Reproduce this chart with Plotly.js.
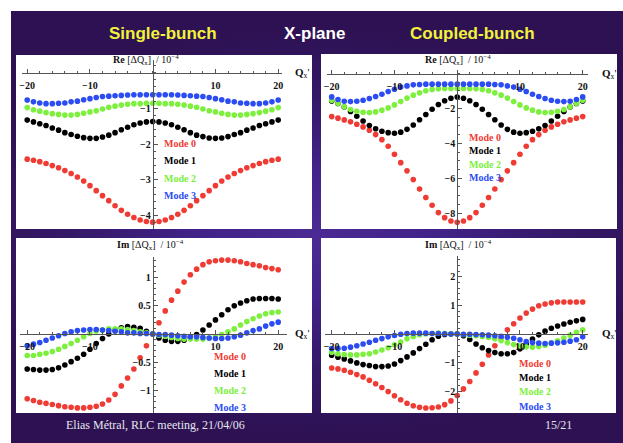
<!DOCTYPE html>
<html>
<head>
<meta charset="utf-8">
<script src="https://cdn.plot.ly/plotly-3.0.1.min.js"></script>
<style>
  html, body { margin: 0; padding: 0; background: #ffffff; }
  #slide {
    position: absolute; left: 11px; top: 11px; width: 612px; height: 432px;
    background: radial-gradient(ellipse 62% 48% at 305px 222px, #4b2b93 0%, #42238a 30%, #361a6c 60%, #2d1152 100%);
  }
  #chart { position: absolute; left: 0; top: 0; width: 623px; height: 443px; }
</style>
</head>
<body>
<div id="slide"></div>
<div id="chart"></div>
<script>
// Chromaticity Q'x (shared abscissa of all four plots)
const qPrime = [-20,-19,-18,-17,-16,-15,-14,-13,-12,-11,-10,-9,-8,-7,-6,-5,-4,-3,-2,-1,0,
                1,2,3,4,5,6,7,8,9,10,11,12,13,14,15,16,17,18,19,20];

// Re[dQx] / 1e-4, single-bunch
const reSingle0 = [-2.42,-2.45,-2.49,-2.54,-2.60,-2.66,-2.74,-2.82,-2.92,-3.03,-3.16,-3.30,-3.44,-3.58,-3.72,-3.85,-3.96,-4.05,-4.12,-4.16,-4.18,
                   -4.16,-4.12,-4.05,-3.96,-3.85,-3.72,-3.58,-3.44,-3.30,-3.16,-3.03,-2.92,-2.82,-2.74,-2.66,-2.60,-2.54,-2.49,-2.45,-2.42];
const reSingle1 = [-1.33,-1.38,-1.43,-1.48,-1.55,-1.61,-1.68,-1.73,-1.78,-1.82,-1.84,-1.84,-1.80,-1.75,-1.68,-1.60,-1.53,-1.46,-1.41,-1.38,-1.37,
                   -1.38,-1.41,-1.46,-1.53,-1.60,-1.68,-1.75,-1.79,-1.83,-1.84,-1.83,-1.79,-1.73,-1.68,-1.61,-1.55,-1.48,-1.43,-1.38,-1.33];
const reSingle2 = [-0.98,-1.04,-1.08,-1.12,-1.15,-1.17,-1.19,-1.19,-1.17,-1.14,-1.10,-1.07,-1.02,-0.97,-0.94,-0.91,-0.89,-0.87,-0.87,-0.86,-0.86,
                   -0.86,-0.87,-0.87,-0.89,-0.91,-0.94,-0.97,-1.02,-1.07,-1.10,-1.14,-1.17,-1.19,-1.19,-1.17,-1.15,-1.12,-1.08,-1.04,-0.98];
const reSingle3 = [-0.77,-0.82,-0.85,-0.87,-0.87,-0.86,-0.85,-0.82,-0.80,-0.76,-0.73,-0.70,-0.67,-0.66,-0.65,-0.64,-0.63,-0.62,-0.62,-0.62,-0.62,
                   -0.62,-0.62,-0.62,-0.63,-0.64,-0.65,-0.66,-0.67,-0.70,-0.73,-0.76,-0.80,-0.82,-0.85,-0.86,-0.87,-0.87,-0.85,-0.82,-0.77];

// Re[dQx] / 1e-4, coupled-bunch
const reCoupled0 = [-2.47,-2.56,-2.66,-2.77,-2.91,-3.06,-3.25,-3.50,-3.79,-4.17,-4.63,-5.11,-5.58,-6.08,-6.62,-7.11,-7.55,-7.97,-8.26,-8.45,-8.53,
                    -8.45,-8.26,-7.97,-7.55,-7.11,-6.62,-6.08,-5.58,-5.11,-4.63,-4.17,-3.79,-3.50,-3.25,-3.06,-2.91,-2.77,-2.66,-2.56,-2.47];
const reCoupled1 = [-1.57,-1.72,-1.92,-2.18,-2.45,-2.72,-2.98,-3.17,-3.31,-3.39,-3.42,-3.36,-3.20,-2.95,-2.65,-2.35,-2.05,-1.78,-1.56,-1.42,-1.35,
                    -1.42,-1.56,-1.78,-2.05,-2.35,-2.65,-2.95,-3.20,-3.36,-3.42,-3.39,-3.31,-3.17,-2.98,-2.72,-2.45,-2.18,-1.92,-1.72,-1.57];
const reCoupled2 = [-1.53,-1.70,-1.91,-2.06,-2.16,-2.22,-2.24,-2.20,-2.10,-1.97,-1.80,-1.61,-1.41,-1.24,-1.11,-0.99,-0.92,-0.88,-0.86,-0.86,-0.86,
                    -0.86,-0.86,-0.88,-0.92,-0.99,-1.11,-1.24,-1.41,-1.61,-1.80,-1.97,-2.10,-2.20,-2.24,-2.22,-2.16,-2.06,-1.91,-1.70,-1.53];
const reCoupled3 = [-1.34,-1.49,-1.59,-1.61,-1.59,-1.53,-1.43,-1.32,-1.19,-1.03,-0.90,-0.78,-0.71,-0.65,-0.63,-0.61,-0.61,-0.61,-0.61,-0.61,-0.61,
                    -0.61,-0.61,-0.61,-0.61,-0.61,-0.63,-0.65,-0.71,-0.78,-0.90,-1.03,-1.19,-1.32,-1.43,-1.53,-1.59,-1.61,-1.59,-1.49,-1.34];

// Im[dQx] / 1e-4, single-bunch
const imSingle0 = [-1.15,-1.18,-1.21,-1.23,-1.25,-1.27,-1.29,-1.30,-1.31,-1.31,-1.30,-1.28,-1.24,-1.17,-1.07,-0.92,-0.78,-0.62,-0.42,-0.21,0.00,
                   0.20,0.41,0.60,0.76,0.92,1.05,1.15,1.23,1.28,1.30,1.31,1.31,1.30,1.28,1.25,1.23,1.21,1.18,1.16,1.14];
const imSingle1 = [-0.62,-0.63,-0.64,-0.64,-0.63,-0.60,-0.55,-0.49,-0.43,-0.36,-0.27,-0.17,-0.08,0.00,0.07,0.11,0.13,0.12,0.10,0.05,0.00,
                   -0.07,-0.11,-0.13,-0.13,-0.11,-0.06,-0.01,0.07,0.16,0.25,0.34,0.43,0.50,0.55,0.59,0.62,0.63,0.63,0.63,0.62];
const imSingle2 = [-0.38,-0.38,-0.36,-0.34,-0.31,-0.27,-0.22,-0.17,-0.11,-0.05,0.01,0.05,0.07,0.09,0.09,0.09,0.08,0.06,0.04,0.02,0.00,
                   -0.02,-0.04,-0.06,-0.08,-0.09,-0.09,-0.09,-0.09,-0.07,-0.05,-0.01,0.04,0.09,0.16,0.22,0.27,0.32,0.36,0.38,0.39];
const imSingle3 = [-0.21,-0.18,-0.15,-0.11,-0.07,-0.03,0.01,0.04,0.06,0.07,0.08,0.08,0.07,0.06,0.05,0.04,0.02,0.02,0.01,0.01,0.00,
                   -0.01,-0.01,-0.02,-0.03,-0.04,-0.05,-0.05,-0.06,-0.07,-0.08,-0.08,-0.07,-0.05,-0.02,0.02,0.06,0.09,0.14,0.18,0.21];

// Im[dQx] / 1e-4, coupled-bunch
const imCoupled0 = [-1.19,-1.22,-1.27,-1.34,-1.42,-1.50,-1.62,-1.74,-1.87,-2.01,-2.16,-2.30,-2.42,-2.51,-2.56,-2.59,-2.58,-2.55,-2.47,-2.34,-2.15,
                    -1.92,-1.66,-1.36,-1.06,-0.73,-0.41,-0.14,0.15,0.36,0.56,0.73,0.87,0.99,1.05,1.09,1.12,1.12,1.12,1.12,1.12];
const imCoupled1 = [-0.74,-0.81,-0.87,-0.94,-1.01,-1.07,-1.10,-1.14,-1.14,-1.12,-1.05,-0.93,-0.80,-0.66,-0.51,-0.36,-0.20,-0.08,-0.02,0.00,0.00,
                    -0.06,-0.19,-0.35,-0.48,-0.58,-0.65,-0.69,-0.69,-0.65,-0.52,-0.36,-0.18,-0.03,0.10,0.20,0.28,0.35,0.41,0.46,0.51];
const imCoupled2 = [-0.64,-0.69,-0.72,-0.73,-0.73,-0.71,-0.69,-0.63,-0.56,-0.48,-0.38,-0.28,-0.17,-0.09,-0.03,0.00,0.02,0.03,0.02,0.01,0.00,
                    -0.02,-0.04,-0.06,-0.09,-0.12,-0.17,-0.23,-0.30,-0.37,-0.42,-0.45,-0.46,-0.44,-0.39,-0.32,-0.24,-0.14,-0.04,0.06,0.15];
const imCoupled3 = [-0.51,-0.51,-0.50,-0.46,-0.41,-0.35,-0.29,-0.22,-0.16,-0.10,-0.05,-0.01,0.02,0.03,0.03,0.03,0.02,0.02,0.01,0.00,0.00,
                    -0.01,-0.01,-0.02,-0.03,-0.04,-0.06,-0.08,-0.11,-0.15,-0.20,-0.26,-0.30,-0.32,-0.33,-0.32,-0.31,-0.29,-0.25,-0.20,-0.10];

const modeNames = ['Mode 0', 'Mode 1', 'Mode 2', 'Mode 3'];
const modeColors = ['#ef3b33', '#000000', '#7cf03c', '#2b4cf2'];

const xTickVals = [-20, -10, 10, 20];
const xTickText = ['\u221220', '\u221210', '10', '20'];

const reSingleTicks   = { vals: [-1, -2, -3, -4], text: ['\u22121', '\u22122', '\u22123', '\u22124'] };
const reCoupledTicks  = { vals: [-2, -4, -6, -8], text: ['\u22122', '\u22124', '\u22126', '\u22128'] };
const imSingleTicks   = { vals: [1, 0.5, -0.5, -1], text: ['1', '0.5', '\u22120.5', '\u22121'] };
const imCoupledTicks  = { vals: [2, 1, -1, -2], text: ['2', '1', '\u22121', '\u22122'] };

// ---- page geometry (pixels) ----
const W = 623, H = 443;
const fx = px => px / W;
const fy = py => 1 - py / H;

// frame: pixel of origin, pixels per unit, axis line extents
const frames = [
  { box: [16, 55, 312, 229],  x0: 152.7, y0: 72.5, pq: 6.275, pu: 35.8, xl: 21.5, xr: 282,   yt: 60,  yb: 229,
    series: [reSingle0, reSingle1, reSingle2, reSingle3], ticks: reSingleTicks, minorY: 0.2,
    title: '<b>Re</b> [\u0394Q<sub>x</sub>]\u00a0 / 10<sup>\u22124</sup>', titleXY: [146, 60], qlabXY: [293, 73.5],
    legXY: [162, 143, 17.6] },
  { box: [321, 54, 617, 229], x0: 457.2, y0: 73.5, pq: 6.275, pu: 17.45, xl: 326.7, xr: 588.3, yt: 70,  yb: 229,
    series: [reCoupled0, reCoupled1, reCoupled2, reCoupled3], ticks: reCoupledTicks, minorY: 0.5,
    title: '<b>Re</b> [\u0394Q<sub>x</sub>]\u00a0 / 10<sup>\u22124</sup>', titleXY: [458, 60], qlabXY: [600, 74],
    legXY: [467, 137.3, 13.5] },
  { box: [16, 238, 312, 413], x0: 152.7, y0: 334, pq: 6.275, pu: 56.4, xl: 20, xr: 286.5, yt: 257, yb: 413,
    series: [imSingle0, imSingle1, imSingle2, imSingle3], ticks: imSingleTicks, minorY: 0.1,
    title: '<b>Im</b> [\u0394Q<sub>x</sub>]\u00a0 / 10<sup>\u22124</sup>', titleXY: [150, 245], qlabXY: [293, 334],
    legXY: [212, 356.7, 16.8] },
  { box: [321, 238, 616, 413], x0: 457.2, y0: 334, pq: 6.275, pu: 28.6, xl: 325, xr: 588, yt: 256, yb: 413,
    series: [imCoupled0, imCoupled1, imCoupled2, imCoupled3], ticks: imCoupledTicks, minorY: 0.2,
    title: '<b>Im</b> [\u0394Q<sub>x</sub>]\u00a0 / 10<sup>\u22124</sup>', titleXY: [458, 245], qlabXY: [600, 334],
    legXY: [517, 363, 14.4] }
];

const serif = 'Liberation Serif, Times New Roman, serif';
const tickFont = { family: serif, size: 10, color: '#111', weight: 'bold' };
const axisGray = '#555555';

const data = [];
const layout = {
  width: W, height: H,
  margin: { l: 0, r: 0, t: 0, b: 0, pad: 0 },
  paper_bgcolor: 'rgba(0,0,0,0)',
  plot_bgcolor: 'rgba(0,0,0,0)',
  showlegend: false,
  shapes: [],
  annotations: []
};

frames.forEach((f, i) => {
  const k = i === 0 ? '' : String(i + 1);
  const xRange = [(f.xl - f.x0) / f.pq, (f.xr - f.x0) / f.pq];
  const yRange = [(f.y0 - f.yb) / f.pu, (f.y0 - f.yt) / f.pu];

  // white plot panel
  layout.shapes.push({
    type: 'rect', xref: 'paper', yref: 'paper', layer: 'below',
    x0: fx(f.box[0]), x1: fx(f.box[2]), y0: fy(f.box[3]), y1: fy(f.box[1]),
    fillcolor: '#ffffff', line: { width: 0 }
  });

  layout['xaxis' + k] = {
    domain: [fx(f.xl), fx(f.xr)], range: xRange, anchor: 'free', position: fy(f.y0),
    showline: true, linecolor: axisGray, linewidth: 1, zeroline: false, showgrid: false,
    ticks: 'inside', ticklen: 4, tickwidth: 1, tickcolor: axisGray, ticklabelstandoff: 3,
    tickmode: 'array', tickvals: xTickVals, ticktext: xTickText, tickfont: tickFont,
    minor: { ticks: 'inside', ticklen: 2, tickcolor: axisGray, tickmode: 'linear', tick0: 0, dtick: 2, showgrid: false },
    fixedrange: true
  };
  layout['yaxis' + k] = {
    domain: [fy(f.yb), fy(f.yt)], range: yRange, anchor: 'free', position: fx(f.x0),
    showline: true, linecolor: axisGray, linewidth: 1, zeroline: false, showgrid: false,
    ticks: 'inside', ticklen: 4, tickwidth: 1, tickcolor: axisGray,
    tickmode: 'array', tickvals: f.ticks.vals, ticktext: f.ticks.text, tickfont: tickFont,
    minor: { ticks: 'inside', ticklen: 2, tickcolor: axisGray, tickmode: 'linear', tick0: 0, dtick: f.minorY, showgrid: false },
    fixedrange: true
  };

  f.series.forEach((vals, m) => {
    data.push({
      type: 'scatter', mode: 'markers', x: qPrime, y: vals,
      xaxis: 'x' + k, yaxis: 'y' + k, cliponaxis: false, hoverinfo: 'skip',
      marker: { size: 5.6, color: modeColors[m], line: { width: 0 } }
    });
    layout.annotations.push({
      xref: 'paper', yref: 'paper', x: fx(f.legXY[0]), y: fy(f.legXY[1] + m * f.legXY[2]),
      xanchor: 'left', yanchor: 'middle', showarrow: false, text: modeNames[m],
      font: { family: serif, size: 10, color: modeColors[m], weight: 'bold' }
    });
  });

  // vertical-axis caption and horizontal-axis symbol
  layout.annotations.push({
    xref: 'paper', yref: 'paper', x: fx(f.titleXY[0]), y: fy(f.titleXY[1]),
    xanchor: 'center', yanchor: 'middle', showarrow: false, text: f.title,
    font: { family: serif, size: 10, color: '#111' }
  });
  layout.annotations.push({
    xref: 'paper', yref: 'paper', x: fx(f.qlabXY[0]), y: fy(f.qlabXY[1]),
    xanchor: 'left', yanchor: 'middle', showarrow: false, text: '<b>Q</b><sub>x</sub>\'',
    font: { family: serif, size: 11, color: '#111' }
  });
});

// slide header and footer
const headFont = { family: 'Liberation Sans, Arial, sans-serif', size: 17, weight: 'bold' };
[['Single-bunch', 163, '#f2f23a'], ['X-plane', 314, '#ffffff'], ['Coupled-bunch', 472, '#f2f23a']].forEach(h => {
  layout.annotations.push({
    xref: 'paper', yref: 'paper', x: fx(h[1]), y: fy(33), xanchor: 'center', yanchor: 'middle',
    showarrow: false, text: h[0], font: Object.assign({}, headFont, { color: h[2] })
  });
});
layout.annotations.push({
  xref: 'paper', yref: 'paper', x: fx(64), y: fy(425), xanchor: 'left', yanchor: 'middle',
  showarrow: false, text: 'Elias Métral, RLC meeting, 21/04/06',
  font: { family: serif, size: 12, color: '#e6e6ee' }
});
layout.annotations.push({
  xref: 'paper', yref: 'paper', x: fx(558), y: fy(425), xanchor: 'center', yanchor: 'middle',
  showarrow: false, text: '15/21',
  font: { family: serif, size: 12, color: '#e6e6ee' }
});

Plotly.newPlot('chart', data, layout, { staticPlot: true, displayModeBar: false });
</script>
</body>
</html>
